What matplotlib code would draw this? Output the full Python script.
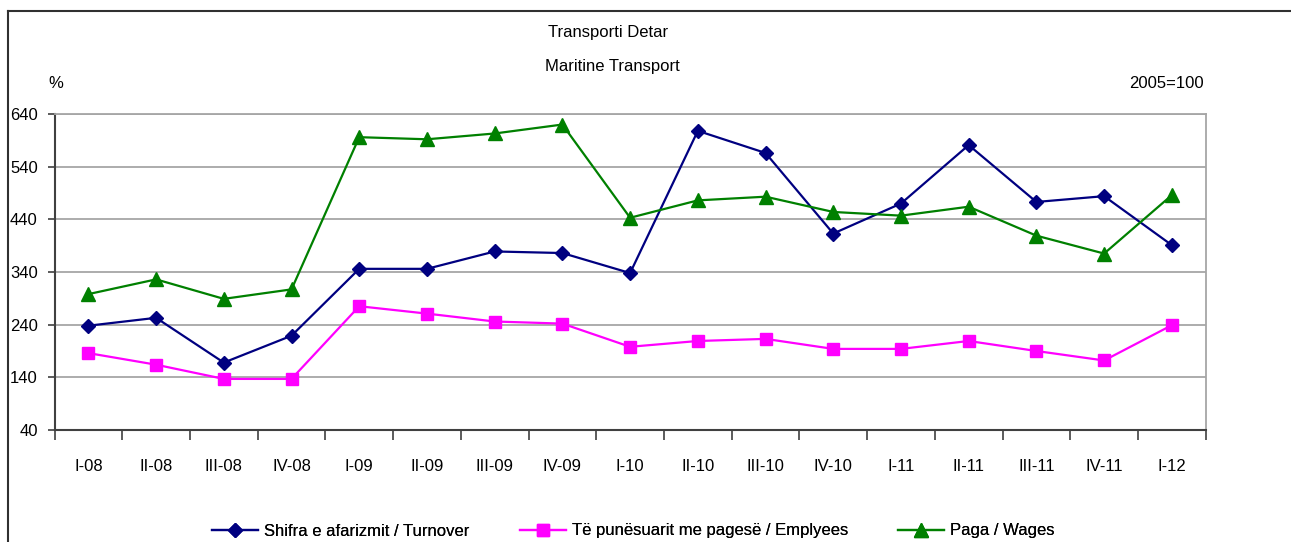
import matplotlib
matplotlib.use("Agg")
import matplotlib.pyplot as plt
from matplotlib.lines import Line2D
import numpy as np

categories = ["I-08", "II-08", "III-08", "IV-08", "I-09", "II-09", "III-09", "IV-09",
              "I-10", "II-10", "III-10", "IV-10", "I-11", "II-11", "III-11", "IV-11", "I-12"]
turnover = [238, 253, 168, 219, 346, 346, 379, 376, 338, 608, 566, 413, 470, 581, 473, 484, 391]
employees = [186, 164, 137, 137, 275, 261, 246, 242, 198, 209, 213, 194, 194, 209, 190, 172, 239]
wages = [298, 326, 289, 307, 596, 592, 603, 620, 443, 476, 483, 454, 447, 464, 409, 375, 486]
yticks = [40, 140, 240, 340, 440, 540, 640]

plt.rcParams['font.family'] = ['Liberation Sans Narrow', 'Liberation Sans', 'DejaVu Sans']
FS = 12

W, H = 1291, 542
fig = plt.figure(figsize=(W / 100, H / 100), dpi=100)
ax = fig.add_axes([54.5 / W, 1 - 430 / H, (1205.7 - 54.5) / W, (430 - 114) / H])

x = np.arange(len(categories))
l1, = ax.plot(x, turnover, color='#000080', lw=1.6, marker='D', ms=7, mec='#000080', mfc='#000080',
              label='Shifra e afarizmit / Turnover', zorder=3)
l2, = ax.plot(x, employees, color='#FF00FF', lw=1.6, marker='s', ms=9, mec='#FF00FF', mfc='#FF00FF',
              label='Të punësuarit me pagesë / Emplyees', zorder=3)
l3, = ax.plot(x, wages, color='#008000', lw=1.6, marker='^', ms=9.5, mec='#008000', mfc='#008000',
              label='Paga / Wages', zorder=3)

ax.set_xlim(-0.5, len(categories) - 0.5)
ax.set_ylim(40, 640)
ax.set_yticks(yticks)
ax.set_yticklabels([str(v) for v in yticks], fontsize=FS)
ax.yaxis.grid(True, color='#a6a6a6', lw=1.3)
ax.set_axisbelow(True)

ax.set_xticks(x)
ax.set_xticklabels(categories, fontsize=FS)
ax.set_xticks(np.arange(-0.5, len(categories)), minor=True)
ax.tick_params(axis='x', which='major', length=0, pad=21)
ax.tick_params(axis='x', which='minor', length=7, width=1.2, color='#404040', direction='out')
ax.tick_params(axis='y', length=5, width=1.2, color='#404040', direction='out', pad=7)

for s in ['left', 'bottom']:
    ax.spines[s].set_color('#404040')
    ax.spines[s].set_linewidth(1.5)
for s in ['top', 'right']:
    ax.spines[s].set_color('#a6a6a6')
    ax.spines[s].set_linewidth(1.3)

fig.text(608 / W, 1 - 32 / H, 'Transporti Detar', ha='center', va='center', fontsize=FS)
fig.text(612 / W, 1 - 66 / H, 'Maritine Transport', ha='center', va='center', fontsize=FS)
fig.text(56 / W, 1 - 84 / H, '%', ha='center', va='center', fontsize=FS)
fig.text(1204 / W, 1 - 84 / H, '2005=100', ha='right', va='center', fontsize=FS)

# outer border (top and left visible)
fig.add_artist(Line2D([8 / W, 8 / W], [0, 1 - 11 / H], transform=fig.transFigure, color='#303030', lw=1.5))
fig.add_artist(Line2D([8 / W, 1], [1 - 11 / H, 1 - 11 / H], transform=fig.transFigure, color='#303030', lw=1.5))

for handle, xs in [(l1, 212), (l2, 520), (l3, 898)]:
    leg = fig.legend(handles=[handle], loc='center left', bbox_to_anchor=(xs / W, 1 - 531 / H),
                     frameon=False, fontsize=FS, handlelength=2.75, handletextpad=0.4,
                     borderaxespad=0, borderpad=0)
    fig.add_artist(leg)

fig.savefig('out.png', dpi=100)
